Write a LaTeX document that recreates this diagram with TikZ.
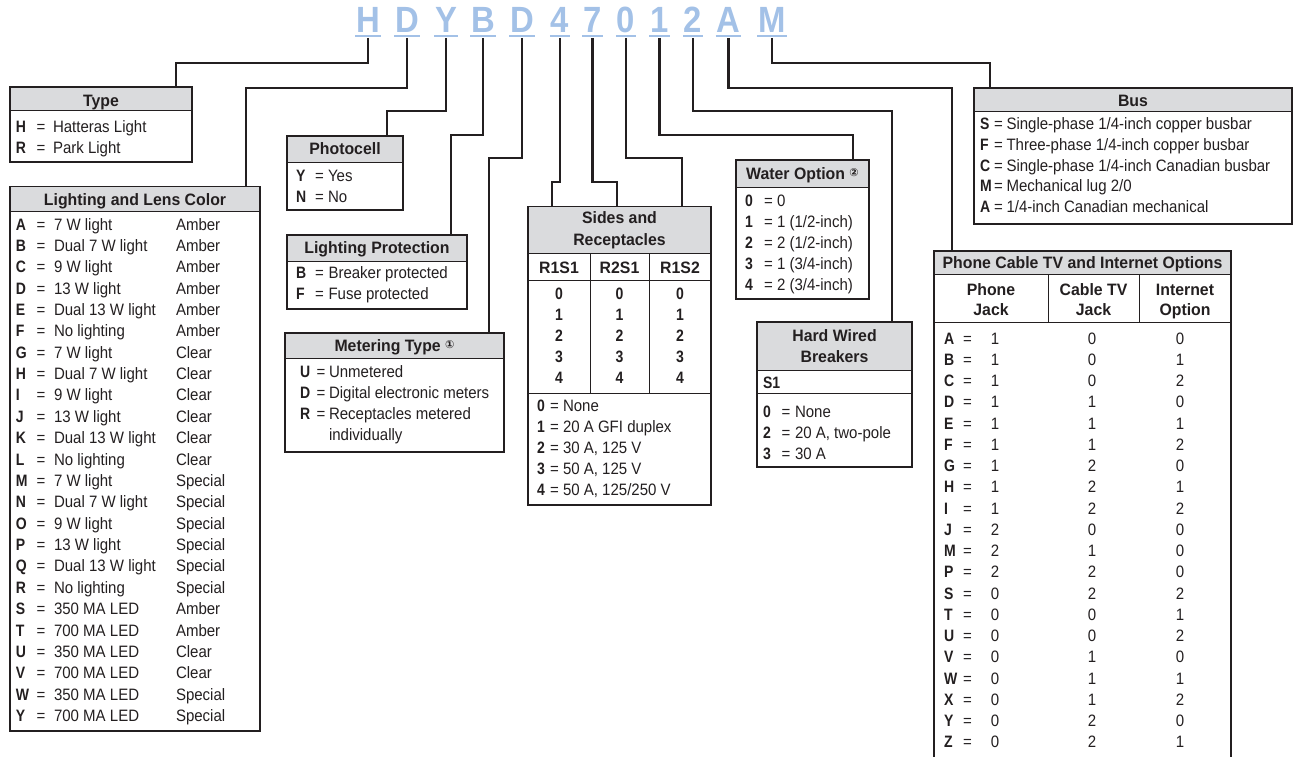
\documentclass[tikz,border=0pt]{standalone}
\usepackage{fontspec}
\setmainfont{Liberation Sans}
\newfontfamily\rgf{Liberation Sans}[FakeStretch=0.91]
\newfontfamily\bdf{Liberation Sans}[FakeStretch=0.96]
\newfontfamily\kyf{Liberation Sans}[FakeStretch=0.85]
\newfontfamily\cdf{Liberation Sans}[FakeStretch=0.9]
\newfontfamily\symf{DejaVu Sans}
\newcommand\rgt{\rgf\fontsize{16.5}{19}\selectfont}
\newcommand\bdt{\bdf\bfseries\fontsize{16.5}{19}\selectfont}
\newcommand\kyt{\kyf\bfseries\fontsize{16.5}{19}\selectfont}
\newcommand\cdt{\cdf\bfseries\fontsize{36.5}{40}\selectfont}
\newcommand\cnum[1]{{\symf\fontsize{11}{11}\selectfont\raisebox{3pt}{#1}}}
\definecolor{ink}{RGB}{35,31,32}
\definecolor{hdrgray}{RGB}{218,219,221}
\definecolor{codeblue}{RGB}{163,193,231}
\tikzset{
  frame/.style={draw=ink, line width=1.3pt, anchor=north west, inner sep=0pt, outer sep=0pt},
  rule/.style={draw=ink, line width=1pt},
  conn/.style={draw=ink, line width=2.6pt},
  uline/.style={draw=codeblue, line width=2.6pt},
  tx/.style={anchor=base west, inner sep=0pt, outer sep=0pt, font=\rgt, text=ink},
  key/.style={anchor=base west, inner sep=0pt, outer sep=0pt, font=\kyt, text=ink},
  ctx/.style={anchor=base, inner sep=0pt, outer sep=0pt, font=\rgt, text=ink},
  ckey/.style={anchor=base, inner sep=0pt, outer sep=0pt, font=\kyt, text=ink},
  ttl/.style={anchor=base, inner sep=0pt, outer sep=0pt, font=\bdt, text=ink},
  code/.style={anchor=base, inner sep=0pt, outer sep=0pt, font=\cdt, text=codeblue},
}
\begin{document}
\begin{tikzpicture}[x=1pt,y=-1pt]
\useasboundingbox (0,0) rectangle (1295,757);
\clip (0,0) rectangle (1295,757);

% ---------- header fills ----------
\fill[hdrgray] (10,87) rectangle (192,111);
\fill[hdrgray] (10,186.5) rectangle (260,211.5);
\fill[hdrgray] (287,136) rectangle (403,162);
\fill[hdrgray] (287,235) rectangle (467,261);
\fill[hdrgray] (285,333) rectangle (504,358);
\fill[hdrgray] (528,206.5) rectangle (711,253.5);
\fill[hdrgray] (736,160) rectangle (869,187);
\fill[hdrgray] (757,322) rectangle (912,370);
\fill[hdrgray] (974,88) rectangle (1292,112);
\fill[hdrgray] (934,251) rectangle (1231,274.5);

% ---------- box frames ----------
\node[frame, minimum width=182pt, minimum height=75pt] (type) at (10,87) {};
\node[frame, minimum width=250pt, minimum height=544.5pt] (light) at (10,186.5) {};
\node[frame, minimum width=116pt, minimum height=74pt] (photo) at (287,136) {};
\node[frame, minimum width=180pt, minimum height=74pt] (prot) at (287,235) {};
\node[frame, minimum width=219pt, minimum height=119pt] (meter) at (285,333) {};
\node[frame, minimum width=183pt, minimum height=298.5pt] (sides) at (528,206.5) {};
\node[frame, minimum width=133pt, minimum height=139pt] (water) at (736,160) {};
\node[frame, minimum width=155pt, minimum height=145pt] (hw) at (757,322) {};
\node[frame, minimum width=318pt, minimum height=136pt] (bus) at (974,88) {};
\node[frame, minimum width=297pt, minimum height=520pt] (phone) at (934,251) {};

% ---------- inner rules ----------
\draw[rule] (10,111) -- (192,111);
\draw[rule] (10,211.5) -- (260,211.5);
\draw[rule] (287,162) -- (403,162);
\draw[rule] (287,261) -- (467,261);
\draw[rule] (285,358) -- (504,358);
\draw[rule] (528,253.5) -- (711,253.5);
\draw[rule] (528,280) -- (711,280);
\draw[rule] (528,393) -- (711,393);
\draw[rule] (590,253.5) -- (590,393);
\draw[rule] (649,253.5) -- (649,393);
\draw[rule] (736,187) -- (869,187);
\draw[rule] (757,370) -- (912,370);
\draw[rule] (757,393.5) -- (912,393.5);
\draw[rule] (974,112) -- (1292,112);
\draw[rule] (934,274.5) -- (1231,274.5);
\draw[rule] (934,322.5) -- (1231,322.5);
\draw[rule] (1048,274.5) -- (1048,322.5);
\draw[rule] (1139,274.5) -- (1139,322.5);

% ---------- titles ----------
\node[ttl] (t-type) at (101,106.5) {Type};
\node[ttl] (t-light) at (135,205) {Lighting and Lens Color};
\node[ttl] (t-photo) at (345,154) {Photocell};
\node[ttl] (t-prot) at (377,253.5) {Lighting Protection};
\node[ttl] (t-meter) at (394.5,351.5) {Metering Type \cnum{①}};
\node[ttl] (t-sides1) at (619.5,223.5) {Sides and};
\node[ttl] (t-sides2) at (619.5,245) {Receptacles};
\node[ttl] (t-water) at (802.5,179.5) {Water Option \cnum{②}};
\node[ttl] (t-hw1) at (834.5,341) {Hard Wired};
\node[ttl] (t-hw2) at (834.5,362) {Breakers};
\node[ttl] (t-bus) at (1133,106.5) {Bus};
\node[ttl] (t-phone) at (1082.5,268.5) {Phone Cable TV and Internet Options};

% ---------- Type ----------
\foreach \ky/\ds [count=\i from 0] in {H/Hatteras Light, R/Park Light} {
  \node[key] (ty-k\i) at (16,{132+21.3*\i}) {\ky};
  \node[tx] (ty-e\i) at (36.5,{132+21.3*\i}) {=};
  \node[tx] (ty-d\i) at (53,{132+21.3*\i}) {\ds};
}

% ---------- Lighting and Lens Color ----------
\foreach \ky/\ds/\cl [count=\i from 0] in {
  A/7 W light/Amber, B/Dual 7 W light/Amber, C/9 W light/Amber, D/13 W light/Amber,
  E/Dual 13 W light/Amber, F/No lighting/Amber, G/7 W light/Clear, H/Dual 7 W light/Clear,
  I/9 W light/Clear, J/13 W light/Clear, K/Dual 13 W light/Clear, L/No lighting/Clear,
  M/7 W light/Special, N/Dual 7 W light/Special, O/9 W light/Special, P/13 W light/Special,
  Q/Dual 13 W light/Special, R/No lighting/Special, S/350 MA LED/Amber, T/700 MA LED/Amber,
  U/350 MA LED/Clear, V/700 MA LED/Clear, W/350 MA LED/Special, Y/700 MA LED/Special} {
  \node[key] (lt-k\i) at (16,{230+21.37*\i}) {\ky};
  \node[tx] (lt-e\i) at (36.5,{230+21.37*\i}) {=};
  \node[tx] (lt-d\i) at (54,{230+21.37*\i}) {\ds};
  \node[tx] (lt-c\i) at (176,{230+21.37*\i}) {\cl};
}

% ---------- Photocell ----------
\foreach \ky/\ds [count=\i from 0] in {Y/Yes, N/No} {
  \node[key] (ph-k\i) at (296,{181+21.3*\i}) {\ky};
  \node[tx] (ph-e\i) at (315,{181+21.3*\i}) {=};
  \node[tx] (ph-d\i) at (328,{181+21.3*\i}) {\ds};
}

% ---------- Lighting Protection ----------
\foreach \ky/\ds [count=\i from 0] in {B/Breaker protected, F/Fuse protected} {
  \node[key] (pr-k\i) at (296,{278+21.3*\i}) {\ky};
  \node[tx] (pr-e\i) at (315,{278+21.3*\i}) {=};
  \node[tx] (pr-d\i) at (328.5,{278+21.3*\i}) {\ds};
}

% ---------- Metering Type ----------
\foreach \ky/\ds [count=\i from 0] in {U/Unmetered, D/Digital electronic meters, R/Receptacles metered} {
  \node[key] (mt-k\i) at (300,{377+21.2*\i}) {\ky};
  \node[tx] (mt-e\i) at (316.5,{377+21.2*\i}) {=};
  \node[tx] (mt-d\i) at (329,{377+21.2*\i}) {\ds};
}
\node[tx] (mt-d3) at (329,440.5) {individually};

% ---------- Sides and Receptacles ----------
\node[ttl] (sd-h1) at (559,273) {R1S1};
\node[ttl] (sd-h2) at (619.5,273) {R2S1};
\node[ttl] (sd-h3) at (680,273) {R1S2};
\foreach \n [count=\i from 0] in {0,1,2,3,4} {
  \node[ckey] (sd-a\i) at (559,{299+21*\i}) {\n};
  \node[ckey] (sd-b\i) at (619.5,{299+21*\i}) {\n};
  \node[ckey] (sd-c\i) at (680,{299+21*\i}) {\n};
}
\foreach \ky/\ds [count=\i from 0] in {0/None, 1/20 A GFI duplex, 2/{30 A, 125 V}, 3/{50 A, 125 V}, 4/{50 A, 125/250 V}} {
  \node[key] (sl-k\i) at (537,{411+21.2*\i}) {\ky};
  \node[tx] (sl-e\i) at (550,{411+21.2*\i}) {=};
  \node[tx] (sl-d\i) at (563,{411+21.2*\i}) {\ds};
}

% ---------- Water Option ----------
\foreach \ky/\ds [count=\i from 0] in {0/0, 1/{1 (1/2-inch)}, 2/{2 (1/2-inch)}, 3/{1 (3/4-inch)}, 4/{2 (3/4-inch)}} {
  \node[key] (wt-k\i) at (745,{206+21*\i}) {\ky};
  \node[tx] (wt-e\i) at (764,{206+21*\i}) {=};
  \node[tx] (wt-d\i) at (777,{206+21*\i}) {\ds};
}

% ---------- Hard Wired Breakers ----------
\node[key] (hw-s1) at (763,388) {S1};
\foreach \ky/\ds [count=\i from 0] in {0/None, 2/{20 A, two-pole}, 3/30 A} {
  \node[key] (hw-k\i) at (763,{417+21*\i}) {\ky};
  \node[tx] (hw-e\i) at (781.5,{417+21*\i}) {=};
  \node[tx] (hw-d\i) at (795,{417+21*\i}) {\ds};
}

% ---------- Bus ----------
\foreach \ky/\ds [count=\i from 0] in {S/{Single-phase 1/4-inch copper busbar}, F/{Three-phase 1/4-inch copper busbar}, C/{Single-phase 1/4-inch Canadian busbar}, M/{Mechanical lug 2/0}, A/{1/4-inch Canadian mechanical}} {
  \node[key] (bs-k\i) at (980,{130+20.6*\i}) {\ky};
  \node[tx] (bs-e\i) at (994,{130+20.6*\i}) {=};
  \node[tx] (bs-d\i) at (1006.5,{130+20.6*\i}) {\ds};
}

% ---------- Phone Cable TV and Internet ----------
\node[ttl] (pc-h1) at (991,295) {Phone};
\node[ttl] (pc-h1b) at (991,315.5) {Jack};
\node[ttl] (pc-h2) at (1093.5,295) {Cable TV};
\node[ttl] (pc-h2b) at (1093.5,315.5) {Jack};
\node[ttl] (pc-h3) at (1185,295) {Internet};
\node[ttl] (pc-h3b) at (1185,315.5) {Option};
\foreach \ky/\pj/\cj/\io [count=\i from 0] in {A/1/0/0, B/1/0/1, C/1/0/2, D/1/1/0, E/1/1/1, F/1/1/2, G/1/2/0, H/1/2/1, I/1/2/2, J/2/0/0, M/2/1/0, P/2/2/0, S/0/2/2, T/0/0/1, U/0/0/2, V/0/1/0, W/0/1/1, X/0/1/2, Y/0/2/0, Z/0/2/1} {
  \node[key] (pc-k\i) at (944,{344.2+21.25*\i}) {\ky};
  \node[tx] (pc-e\i) at (963,{344.2+21.25*\i}) {=};
  \node[ctx] (pc-p\i) at (995,{344.2+21.25*\i}) {\pj};
  \node[ctx] (pc-c\i) at (1092,{344.2+21.25*\i}) {\cj};
  \node[ctx] (pc-i\i) at (1180,{344.2+21.25*\i}) {\io};
}

% ---------- code letters ----------
\foreach \ch/\xx [count=\i] in {H/368, D/407, Y/446, B/483, D/522, 4/560, 7/592.5, 0/626, 1/659.5, 2/693, A/728.5, M/772} {
  \node[code] (c\i) at (\xx,33) {\ch};
  \draw[uline] ([xshift=-1pt,yshift=-3pt]c\i.base west) -- ([xshift=1pt,yshift=-3pt]c\i.base east);
}

% ---------- connectors ----------
\draw[conn] ([yshift=-5pt]c1.base) |- (176,63) -- (type.north -| 176,0);
\draw[conn] ([yshift=-5pt]c2.base) |- (246,88) -- (light.north -| 246,0);
\draw[conn] ([yshift=-5pt]c3.base) |- (387,111) -- (photo.north -| 387,0);
\draw[conn] ([yshift=-5pt]c4.base) |- (451,135) -- (prot.north -| 451,0);
\draw[conn] ([yshift=-5pt]c5.base) |- (489,158) -- (meter.north -| 489,0);
\draw[conn] ([yshift=-5pt]c6.base) |- (552,182) -- (sides.north -| 552,0);
\draw[conn] ([yshift=-5pt]c7.base) |- (617,182) -- (sides.north -| 617,0);
\draw[conn] ([yshift=-5pt]c8.base) |- (682,158) -- (sides.north -| 682,0);
\draw[conn] ([yshift=-5pt]c9.base) |- (853,135) -- (water.north -| 853,0);
\draw[conn] ([yshift=-5pt]c10.base) |- (892,111) -- (hw.north -| 892,0);
\draw[conn] ([yshift=-5pt]c11.base) |- (952,88) -- (phone.north -| 952,0);
\draw[conn] ([yshift=-5pt]c12.base) |- (990,63) -- (bus.north -| 990,0);
\end{tikzpicture}
\end{document}
